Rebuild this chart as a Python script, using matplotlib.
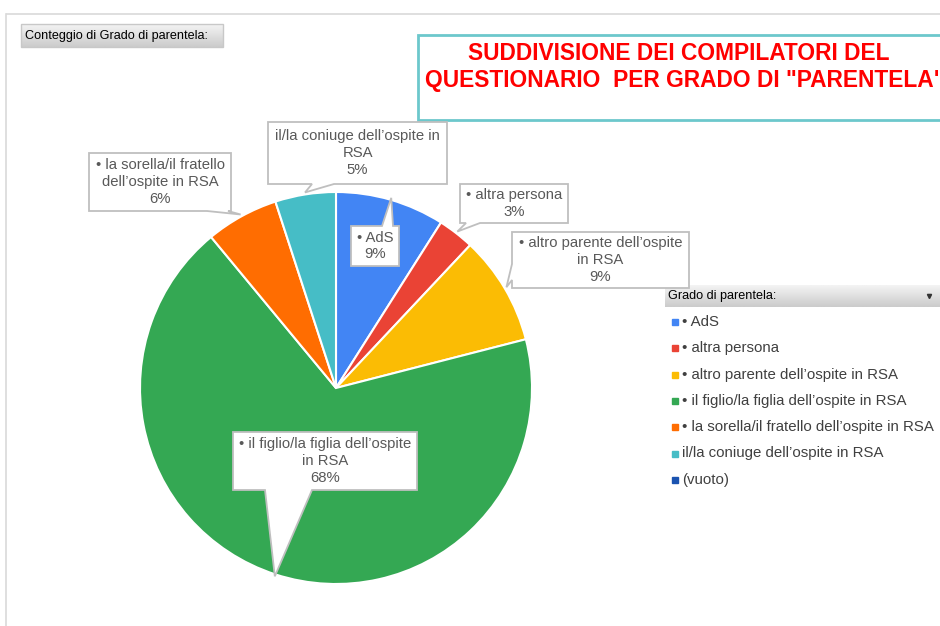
import numpy as np
import matplotlib.pyplot as plt
from matplotlib.patches import Polygon, Rectangle

plt.rcParams['font.family'] = ['Liberation Sans', 'DejaVu Sans']

W, H = 940, 626

categories = ['• AdS', '• altra persona', '• altro parente dell’ospite in RSA',
              '• il figlio/la figlia dell’ospite in RSA',
              '• la sorella/il fratello dell’ospite in RSA',
              'il/la coniuge dell’ospite in RSA']
percent = [9, 3, 9, 68, 6, 5]
colors = ['#4285F4', '#EA4335', '#FBBC04', '#34A853', '#FF6D01', '#46BDC6']
label_wrapped = ['• AdS', '• altra persona', '• altro parente dell’ospite\nin RSA',
                 '• il figlio/la figlia dell’ospite\nin RSA',
                 '• la sorella/il fratello\ndell’ospite in RSA',
                 'il/la coniuge dell’ospite in\nRSA']
legend_labels = categories + ['(vuoto)']
legend_colors = colors + ['#1A53B0']

title_lines = ['SUDDIVISIONE DEI COMPILATORI DEL', 'QUESTIONARIO  PER GRADO DI "PARENTELA"']

# callout boxes in pixel coords (x0, y0, x1, y1), side of tail, tail base
boxes = [
    ((351, 226, 399, 266), 'top', 382, 393),
    ((460, 184, 568, 223), 'bottom', 466, 480),
    ((512, 232, 689, 288), 'left', 264, 280),
    ((233, 432, 417, 490), 'bottom', 265, 312),
    ((89, 153, 231, 211), 'bottom', 207, 228),
    ((268, 122, 447, 184), 'bottom', 312, 334),
]


def py(y):
    return H - y


fig = plt.figure(figsize=(W / 100, H / 100), dpi=100)
ax = fig.add_axes([0, 0, 1, 1])

cx, cy, r = 336, 388, 196
wedges, _ = ax.pie(percent, colors=colors, startangle=90, counterclock=False,
                   center=(cx, py(cy)), radius=r,
                   wedgeprops=dict(edgecolor='white', linewidth=1.5))

# frame lines
ax.plot([7, W], [py(14), py(14)], color='#D9D9D9', lw=1.2)
ax.plot([6, 6], [py(14), 0], color='#D9D9D9', lw=1.2)

# callouts
for w, txt, p, (bx, edge, a, b) in zip(wedges, label_wrapped, percent, boxes):
    mid = np.deg2rad((w.theta1 + w.theta2) / 2)
    tx = cx + (r + 2) * np.cos(mid)
    ty = cy - (r + 2) * np.sin(mid)
    x0, y0, x1, y1 = bx
    if edge == 'top':
        pts = [(x0, y0), (a, y0), (tx, ty), (b, y0), (x1, y0), (x1, y1), (x0, y1)]
    elif edge == 'bottom':
        pts = [(x0, y0), (x1, y0), (x1, y1), (b, y1), (tx, ty), (a, y1), (x0, y1)]
    else:
        pts = [(x0, y0), (x1, y0), (x1, y1), (x0, y1), (x0, b), (tx, ty), (x0, a)]
    ax.add_patch(Polygon([(x, py(y)) for x, y in pts], closed=True, facecolor='white',
                         edgecolor='#BFBFBF', lw=1.3, zorder=3))
    ax.text((x0 + x1) / 2, py((y0 + y1) / 2), f'{txt}\n{p}%', ha='center', va='center',
            multialignment='center', fontsize=10.7, color='#595959', linespacing=1.25,
            zorder=4)

# title box
ax.add_patch(Rectangle((418, py(120)), 540, 85, facecolor='white', edgecolor='#6CC8CC',
                       lw=2, zorder=2))
ax.text(468, py(60), title_lines[0], ha='left', va='baseline', fontsize=16.4,
        fontweight='bold', color='#FF0000', zorder=3)
ax.text(425, py(87), title_lines[1], ha='left', va='baseline', fontsize=16.4,
        fontweight='bold', color='#FF0000', zorder=3)

# field buttons
grad = np.linspace(0.95, 0.80, 20).reshape(-1, 1)
ax.imshow(grad, cmap='gray', vmin=0, vmax=1, aspect='auto',
          extent=(21, 223, py(47), py(24)), zorder=2)
ax.add_patch(Rectangle((21, py(47)), 202, 23, fill=False, edgecolor='#C8C8C8', lw=1, zorder=3))
ax.text(25, py(36), 'Conteggio di Grado di parentela:', ha='left', va='center',
        fontsize=9.1, color='black', zorder=4)

ax.imshow(grad, cmap='gray', vmin=0, vmax=1, aspect='auto',
          extent=(665, 945, py(307), py(285)), zorder=2)
ax.text(668, py(296), 'Grado di parentela:', ha='left', va='center',
        fontsize=9.1, color='black', zorder=4)
ax.plot([929], [py(296)], marker='v', markersize=3, color='#333333', zorder=4)

# legend
for i, (lab, col) in enumerate(zip(legend_labels, legend_colors)):
    yy = 322 + i * 26.3
    ax.plot([674.5], [py(yy)], marker='s', markersize=3.8, color=col, zorder=4)
    ax.text(682, py(yy), lab, ha='left', va='center', fontsize=10.8,
            color='#404040', zorder=4)

ax.set_xlim(0, W)
ax.set_ylim(0, H)
ax.set_aspect('auto')
ax.axis('off')

fig.savefig('out.png', dpi=100)
